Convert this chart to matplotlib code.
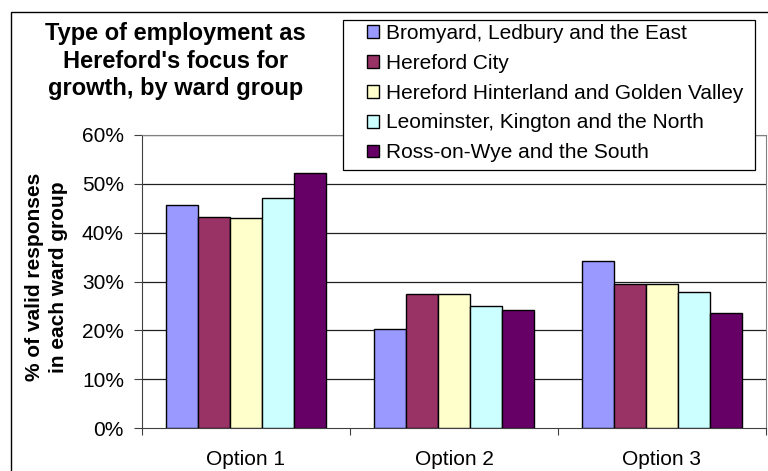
import matplotlib
matplotlib.use("Agg")
import matplotlib.pyplot as plt
from matplotlib.patches import Rectangle
import numpy as np

plt.rcParams['font.family'] = ['Liberation Sans', 'DejaVu Sans']

categories = ["Option 1", "Option 2", "Option 3"]
series_names = [
    "Bromyard, Ledbury and the East",
    "Hereford City",
    "Hereford Hinterland and Golden Valley",
    "Leominster, Kington and the North",
    "Ross-on-Wye and the South",
]
values = {
    "Bromyard, Ledbury and the East": [45.6, 20.3, 34.1],
    "Hereford City": [43.3, 27.5, 29.5],
    "Hereford Hinterland and Golden Valley": [43.0, 27.5, 29.4],
    "Leominster, Kington and the North": [47.2, 25.0, 27.9],
    "Ross-on-Wye and the South": [52.2, 24.2, 23.6],
}
colors = ["#9999FF", "#993366", "#FFFFCC", "#CCFFFF", "#660066"]
yticks = [0, 10, 20, 30, 40, 50, 60]

W, H = 768, 471
fig = plt.figure(figsize=(W / 100, H / 100), dpi=100)

def fx(x):
    return x / W

def fy(y):
    return 1 - y / H

# outer chart border (right and bottom fall off the canvas)
fig.patches.append(Rectangle((fx(11), fy(480)), fx(775) - fx(11), fy(11.5) - fy(480),
                             transform=fig.transFigure, fill=False,
                             edgecolor="black", linewidth=1.0))

ax = fig.add_axes([fx(142), fy(428), fx(766) - fx(142), fy(135) - fy(428)])

n = len(series_names)
bw = 0.1538
x = np.arange(len(categories)) + 0.5
for i, name in enumerate(series_names):
    ax.bar(x + (i - (n - 1) / 2) * bw, values[name], width=bw,
           color=colors[i], edgecolor="black", linewidth=1.0,
           label=name, zorder=3)

FS = 15
ax.set_xlim(0, 3)
ax.set_ylim(0, 60)
ax.set_yticks(yticks)
ax.set_yticklabels([f"{v}%" for v in yticks], fontsize=FS)
ax.set_xticks([0, 1, 2, 3])
ax.set_xticklabels([])
ax.set_xticks(x, minor=True)
ax.set_xticklabels(categories, minor=True, fontsize=FS)
ax.tick_params(axis="x", which="minor", length=0, pad=16)
ax.tick_params(axis="x", which="major", length=5, direction="out", color="#404040")
ax.tick_params(axis="y", length=6, direction="out", color="#404040", pad=7)
for yv in yticks[1:]:
    ax.axhline(yv, color="#202020", linewidth=0.9, zorder=1)
ax.spines["left"].set_color("#404040")
ax.spines["bottom"].set_color("#404040")
ax.spines["top"].set_color("#808080")
ax.spines["right"].set_color("#808080")

fig.text(fx(46.5), fy(277), "% of valid responses\nin each ward group", rotation=90,
         ha="center", va="center", fontsize=FS, fontweight="bold", linespacing=1.32)

fig.text(fx(175.5), fy(61), "Type of employment as\nHereford's focus for\ngrowth, by ward group",
         ha="center", va="center", fontsize=17, fontweight="bold", linespacing=1.27)

# legend box
fig.patches.append(Rectangle((fx(343), fy(170)), fx(755) - fx(343), fy(20) - fy(170),
                             transform=fig.transFigure, facecolor="white",
                             edgecolor="black", linewidth=0.9, zorder=5))
leg = fig.legend(loc="upper left", bbox_to_anchor=(fx(367), fy(24)),
                 bbox_transform=fig.transFigure, fontsize=FS, frameon=False,
                 handlelength=0.58, handleheight=0.58, handletextpad=0.34,
                 labelspacing=0.52, borderpad=0, borderaxespad=0)
leg.set_zorder(6)

fig.savefig("out.png", dpi=100)
